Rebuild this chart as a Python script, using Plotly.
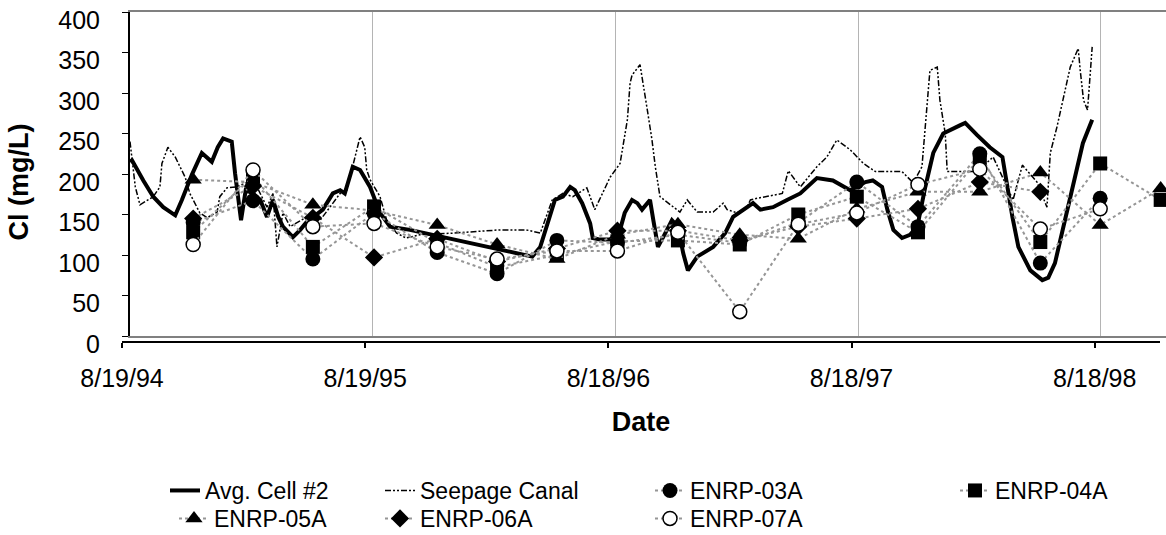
import plotly.graph_objects as go
import pandas as pd

W, H = 1166, 535
START = pd.Timestamp("1994-08-19")
FONT = "Liberation Sans, Arial, sans-serif"

# ---- data -------------------------------------------------------------
# Avg. Cell #2 : days since 8/19/94 and Cl (mg/L)
avg_days = [0, 3, 20, 35, 50, 68, 78, 93, 108, 123, 132, 140, 153, 158, 167, 174,
            185, 196, 206, 215, 223, 230, 245, 256, 266, 275, 290, 305, 316, 323,
            335, 346, 361, 376, 391, 421, 471, 522, 556, 605, 617, 629, 639, 651,
            662, 669, 680, 692, 696, 707, 726, 737, 744, 755, 763, 770, 782, 787,
            794, 805, 815, 824, 832, 839, 853, 877, 895, 907, 937, 948, 967, 988,
            1008, 1033, 1057, 1083, 1106, 1117, 1131, 1139, 1148, 1161, 1173, 1184,
            1196, 1208, 1223, 1248, 1256, 1274, 1293, 1312, 1319, 1327, 1336, 1354,
            1372, 1381, 1391, 1403, 1418, 1433, 1447]
avg_cl = [215, 217, 192, 172, 159, 149, 168, 199, 226, 215, 233, 244, 240, 201, 143, 180,
          176, 168, 147, 168, 147, 135, 122, 131, 141, 147, 156, 176, 180, 176,
          209, 205, 184, 152, 135, 131, 122, 112, 106, 98, 110, 143, 168, 172,
          184, 180, 164, 139, 121, 119, 119, 131, 152, 168, 164, 156, 168, 143,
          110, 127, 143, 135, 102, 81, 98, 110, 127, 147, 164, 156, 159, 168,
          176, 195, 192, 180, 190, 192, 184, 156, 131, 121, 125, 135,
          184, 226, 250, 260, 263, 248, 233, 221, 184, 147, 110, 81,
          69, 72, 90, 131, 184, 238, 267]

# Seepage Canal
seep_days = [0, 8, 15, 35, 45, 48, 57, 68, 83, 90, 105, 116, 131, 135, 146, 161, 176,
             191, 206, 215, 221, 230, 241, 266, 286, 301, 316, 326, 346, 353, 356,
             361, 376, 386, 401, 415, 436, 486, 556, 596, 617, 635, 651, 666, 687,
             699, 711, 722, 737, 741, 748, 752, 755, 767, 772, 778, 785, 790, 797,
             817, 827, 838, 853, 877, 892, 898, 913, 928, 933, 943, 981, 990, 1008,
             1033, 1048, 1063, 1083, 1103, 1121, 1161, 1178, 1191, 1200, 1203, 1214,
             1218, 1226, 1229, 1274, 1298, 1328, 1342, 1364, 1379, 1384, 1394, 1414,
             1426, 1429, 1434, 1440, 1447]
seep_cl = [240, 184, 162, 172, 184, 213, 233, 221, 196, 176, 152, 146, 153, 172, 183, 184, 190,
           184, 159, 176, 110, 152, 135, 147, 143, 159, 176, 180, 246, 233, 205,
           193, 172, 143, 127, 121, 125, 127, 131, 131, 127, 168, 176, 172, 183,
           156, 176, 196, 213, 233, 267, 312, 322, 335, 307, 279, 242, 209, 172,
           159, 153, 168, 153, 153, 164, 156, 152, 159, 168, 170, 176, 204, 184,
           209, 221, 242, 230, 213, 203, 203, 189, 209, 291, 328, 332,
           291, 250, 203, 203, 221, 168, 211, 190, 159, 226, 258, 332,
           355, 328, 291, 279, 357]

# quarterly well samples
sample_dates = ["1994-11-22", "1995-02-20", "1995-05-21", "1995-08-21", "1995-11-24",
                "1996-02-22", "1996-05-22", "1996-08-21", "1996-11-20", "1997-02-21",
                "1997-05-20", "1997-08-16", "1997-11-16", "1998-02-17", "1998-05-19",
                "1998-08-17", "1998-11-16"]
enrp03a = [140, 167, 95, 152, 103, 77, 118, 115, 125, 115, 140, 190, 135, 225, 90, 170]
enrp04a = [128, 197, 110, 160, 115, 85, 100, 117, 118, 113, 150, 172, 128, 220, 116, 213, 168]
enrp05a = [193, 190, 162, 155, 137, 113, 95, 125, 138, 125, 120, 157, 178, 178, 202, 137, 182]
enrp06a = [145, 185, 146, 97, 120, 92, 108, 130, 130, 118, 135, 145, 157, 190, 178]
enrp07a = [113, 205, 135, 139, 110, 95, 105, 105, 128, 30, 138, 152, 187, 206, 132, 157]

tick_dates = ["1994-08-19", "1995-08-19", "1996-08-18", "1997-08-18", "1998-08-18"]
tick_labels = ["8/19/94", "8/19/95", "8/18/96", "8/18/97", "8/18/98"]
x_range = ["1994-08-19", "1998-11-24"]
y_ticks = [0, 50, 100, 150, 200, 250, 300, 350, 400]


def fx(px):
    return px / W


def fy(py):
    return 1 - py / H


avg_x = START + pd.to_timedelta(avg_days, unit="D")
seep_x = START + pd.to_timedelta(seep_days, unit="D")

fig = go.Figure()
fig.add_trace(go.Scatter(x=avg_x, y=avg_cl, name="Avg. Cell #2", mode="lines",
                         line=dict(color="black", width=4), legend="legend"))
fig.add_trace(go.Scatter(x=seep_x, y=seep_cl, name="Seepage Canal", mode="lines",
                         line=dict(color="black", width=1.5,
                                   dash="6px,2px,2px,2px,2px,2px"),
                         legend="legend2"))

gray = "#969696"
wells = [
    ("ENRP-03A", enrp03a, dict(symbol="circle", size=15, color="black"), "legend3"),
    ("ENRP-04A", enrp04a, dict(symbol="square", size=14, color="black"), "legend4"),
    ("ENRP-05A", enrp05a, dict(symbol="triangle-up", size=15, color="black"), "legend5"),
    ("ENRP-06A", enrp06a, dict(symbol="diamond", size=14, color="black"), "legend6"),
    ("ENRP-07A", enrp07a, dict(symbol="circle", size=14, color="white",
                               line=dict(color="black", width=1.5)), "legend7"),
]
for name, vals, mk, lg in wells:
    fig.add_trace(go.Scatter(x=sample_dates[:len(vals)], y=vals, name=name,
                             mode="lines+markers", marker=mk,
                             line=dict(color=gray, width=2, dash="dot"), legend=lg))

# invisible anchor trace for the offset label axes
fig.add_trace(go.Scatter(x=[tick_dates[0]], y=[y_ticks[0]], xaxis="x2", yaxis="y2",
                         mode="markers", marker=dict(opacity=0), showlegend=False,
                         hoverinfo="skip"))

legend_common = dict(orientation="v", xanchor="left", yanchor="top",
                     font=dict(family=FONT, size=23, color="black"),
                     bgcolor="rgba(0,0,0,0)", tracegroupgap=0)
ROW1, ROW2 = 469, 497

fig.update_layout(
    width=W, height=H,
    margin=dict(l=0, r=0, t=0, b=0, autoexpand=False),
    paper_bgcolor="white", plot_bgcolor="rgba(0,0,0,0)",
    font=dict(family=FONT, color="black"),
    xaxis=dict(type="date", domain=[fx(130), fx(1166)], range=x_range,
               tickvals=tick_dates, showticklabels=False, ticks="",
               showgrid=True, gridcolor="#b4b4b4", gridwidth=1,
               showline=True, linecolor="#808080", linewidth=2, mirror=True,
               zeroline=False, automargin=False),
    yaxis=dict(domain=[fy(336), fy(12)], range=[0, 400], tickvals=y_ticks,
               showticklabels=False, ticks="outside", ticklen=6, tickcolor="black",
               tickwidth=1, showline=True, linecolor="black", linewidth=1.5,
               showgrid=False, zeroline=False, automargin=False),
    xaxis2=dict(type="date", domain=[fx(122), fx(1160)], range=x_range,
                anchor="free", position=fy(342),
                tickvals=tick_dates, ticktext=tick_labels,
                ticks="outside", ticklen=5, tickcolor="black", tickwidth=1.5,
                showline=True, linecolor="black", linewidth=1.5,
                showgrid=False, zeroline=False, automargin=False,
                ticklabelstandoff=9,
                tickfont=dict(family=FONT, size=25, color="black"),
                title=dict(text="<b>Date</b>", standoff=20,
                           font=dict(family=FONT, size=27, color="black"))),
    yaxis2=dict(domain=[fy(344), fy(20)], range=[0, 400], tickvals=y_ticks,
                anchor="free", position=fx(100),
                ticks="", showline=False, showgrid=False, zeroline=False,
                automargin=False,
                tickfont=dict(family=FONT, size=25, color="black"),
                title=dict(text="<b>Cl (mg/L)</b>", standoff=20,
                           font=dict(family=FONT, size=27, color="black"))),
    legend=dict(x=fx(165), y=fy(ROW1), **legend_common),
    legend2=dict(x=fx(380), y=fy(ROW1), **legend_common),
    legend3=dict(x=fx(650), y=fy(ROW1), **legend_common),
    legend4=dict(x=fx(955), y=fy(ROW1), **legend_common),
    legend5=dict(x=fx(174), y=fy(ROW2), **legend_common),
    legend6=dict(x=fx(380), y=fy(ROW2), **legend_common),
    legend7=dict(x=fx(650), y=fy(ROW2), **legend_common),
    showlegend=True,
)

fig.write_html("out.html",
               config={"displayModeBar": False},
               post_script="document.body.style.margin='0';"
                           "document.body.style.overflow='hidden';")
